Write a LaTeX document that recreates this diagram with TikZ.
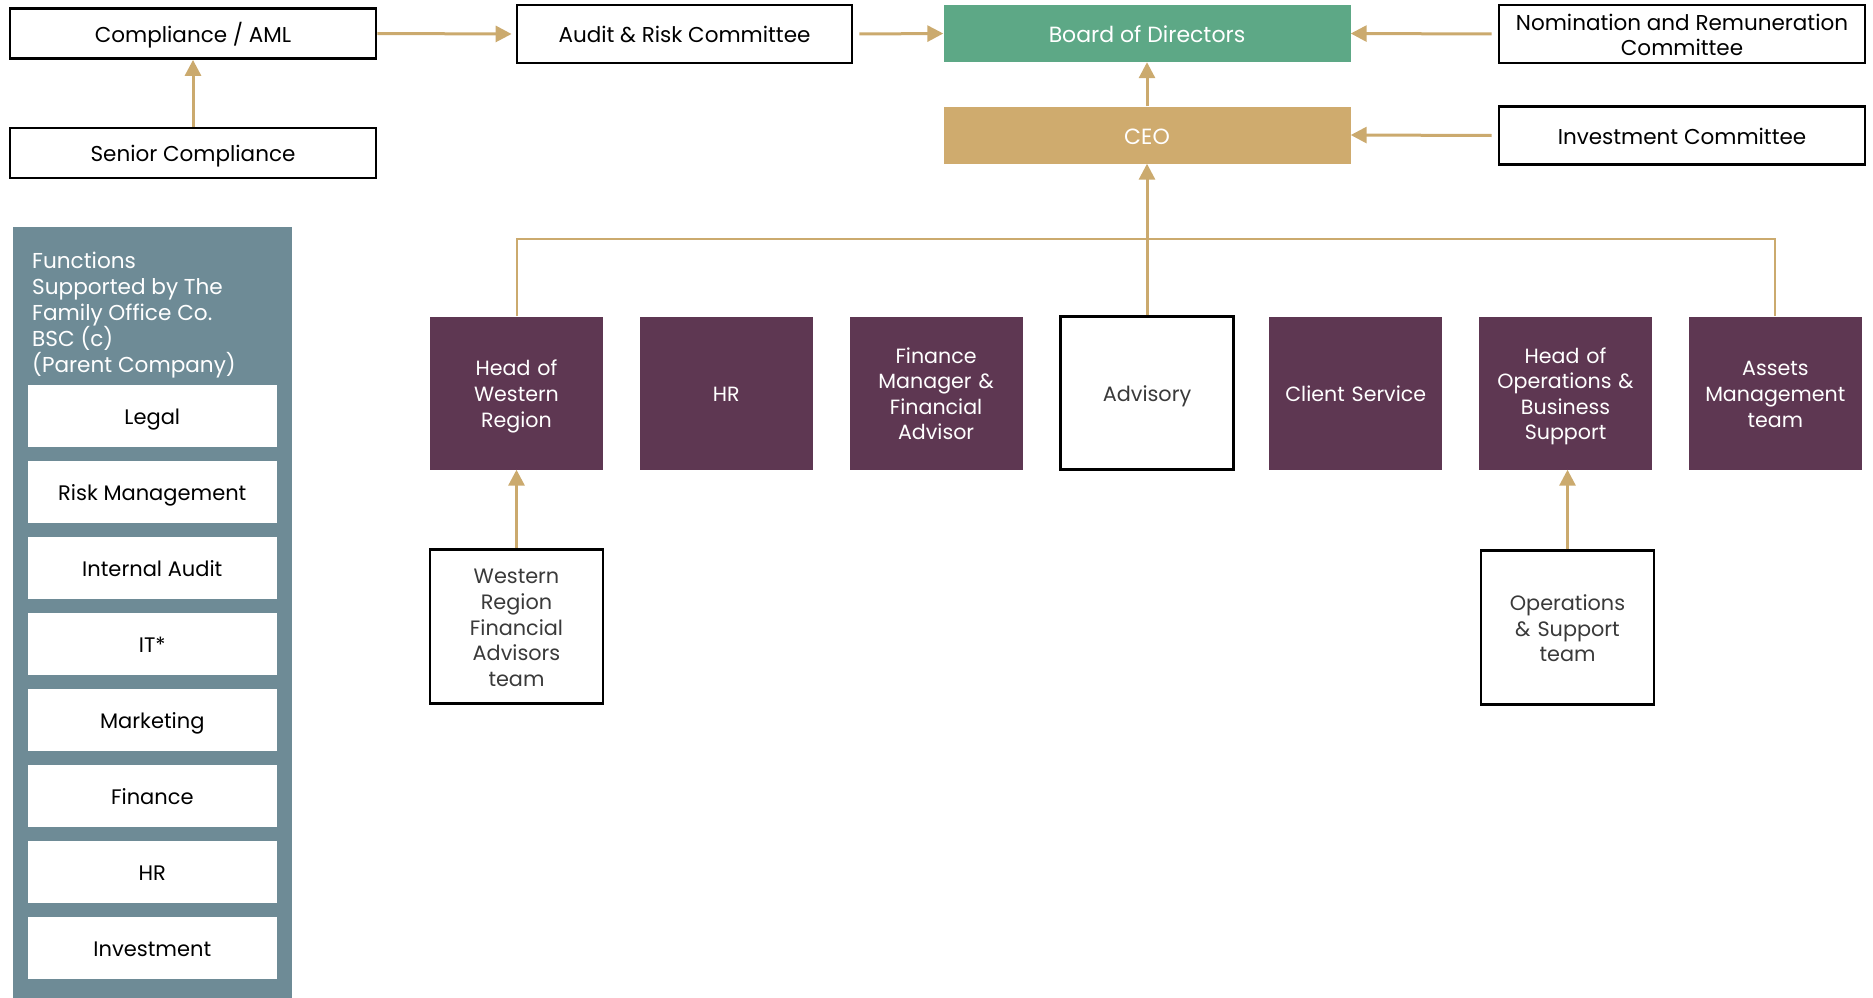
\documentclass[tikz,border=0pt]{standalone}
\usepackage{fontspec}
\setmainfont{Poppins}
\usetikzlibrary{arrows.meta}
\definecolor{boardgreen}{HTML}{5DA886}
\definecolor{ceotan}{HTML}{CFAB6E}
\definecolor{plum}{HTML}{5E3752}
\definecolor{panelblue}{HTML}{6E8B96}
\definecolor{linktan}{HTML}{CBAA6E}
\definecolor{softtext}{HTML}{3A3A3A}
\newcommand\sS{\rule[-0.3em]{0pt}{1.43em}}% single line
\newcommand\sT{\rule{0pt}{1.13em}}% first line
\newcommand\sB{\rule[-0.3em]{0pt}{0.3em}}% last line
\begin{document}
\begin{tikzpicture}[x=1pt,y=-1pt,
  topbox/.style={draw=black,line width=2.8pt,fill=white,minimum width=366pt,minimum height=50pt,align=center,font=\fontsize{21.5}{25}\selectfont,inner sep=0pt},
  headbox/.style={minimum width=407pt,minimum height=57pt,align=center,text=white,font=\fontsize{22}{25}\selectfont,inner sep=0pt},
  deptbox/.style={fill=plum,text=white,minimum width=173pt,minimum height=153pt,align=center,font=\fontsize{20.6}{25.6}\selectfont,inner sep=0pt,text width=170pt},
  teambox/.style={draw=black,line width=2.6pt,fill=white,text=softtext,minimum width=173pt,minimum height=154pt,align=center,font=\fontsize{20.8}{25.6}\selectfont,inner sep=0pt,text width=165pt},
  funcbox/.style={fill=white,minimum width=249.5pt,minimum height=62pt,align=center,font=\fontsize{21}{24}\selectfont,inner sep=0pt},
  link/.style={draw=linktan,line width=3pt,-{Triangle[width=16pt,length=16pt]}},
  bus/.style={draw=linktan,line width=2pt}
]
\useasboundingbox (0,0) rectangle (1873,998);
% left panel
\fill[panelblue] (13,227) rectangle (291.5,998);
\node[anchor=north west,align=left,text=white,font=\fontsize{21.6}{25.7}\selectfont,inner sep=0pt] (paneltitle) at (32,252) {Functions\\Supported by The\\Family Office Co.\\BSC (c)\\(Parent Company)};
\node[funcbox] (fLegal) at (152.3,415.7) {\sS Legal};
\node[funcbox] (fRisk) at (152.3,491.7) {\sS Risk Management};
\node[funcbox] (fAudit) at (152.3,567.7) {\sS Internal Audit};
\node[funcbox] (fIT) at (152.3,643.7) {\sS IT*};
\node[funcbox] (fMkt) at (152.3,719.7) {\sS Marketing};
\node[funcbox] (fFin) at (152.3,795.7) {\sS Finance};
\node[funcbox] (fHR) at (152.3,871.7) {\sS HR};
\node[funcbox] (fInv) at (152.3,947.7) {\sS Investment};
% top boxes
\node[topbox] (comp) at (193,33.5) {\sS Compliance / AML};
\node[topbox] (senior) at (193,153) {\sS Senior Compliance};
\node[topbox,minimum width=335pt,minimum height=58pt] (audit) at (684.5,34) {\sS Audit \& Risk Committee};
\node[headbox,fill=boardgreen] (board) at (1147,33.5) {\sS Board of Directors};
\node[headbox,fill=ceotan] (ceo) at (1147,135) {\sS CEO};
\node[topbox,minimum height=58pt] (nom) at (1682,34) {\sT Nomination and Remuneration\\Committee\sB};
\node[topbox,minimum height=58pt] (invc) at (1682,135.5) {\sS Investment Committee};
% departments
\node[deptbox] (west) at (516.5,393) {\sT Head of\\Western\\Region\sB};
\node[deptbox] (hr) at (726.3,393) {\sS HR};
\node[deptbox] (fin) at (936.1,393) {\sT Finance\\Manager \&\\Financial\\Advisor\sB};
\node[teambox,minimum height=153pt] (adv) at (1147,393) {\sS Advisory};
\node[deptbox] (client) at (1355.7,393) {\sS Client Service};
\node[deptbox] (ops) at (1565.5,393) {\sT Head of\\Operations \&\\Business\\Support\sB};
\node[deptbox] (assets) at (1775.3,393) {\sT Assets\\Management\\team\sB};
\node[teambox] (westteam) at (516.5,626.5) {\sT Western\\Region\\Financial\\Advisors\\team\sB};
\node[teambox] (opsteam) at (1567.5,627.7) {\sT Operations\\\& Support\\team\sB};
% connectors
\draw[link] (senior.north) -- (comp.south);
\draw[link] (comp.east) -- ([xshift=-4pt]audit.west);
\draw[link] ([xshift=6pt]audit.east) -- (board.west);
\draw[link] ([xshift=-6pt]nom.west) -- (board.east);
\draw[link] ([xshift=-6pt]invc.west) -- (ceo.east);
\draw[link] (ceo.north) -- (board.south);
\draw[link] (adv.north) -- (ceo.south);
\coordinate (busL) at (west.north |- 0,239);
\coordinate (busR) at (assets.north |- 0,239);
\draw[bus] (west.north) -- (busL) -- (busR) -- (assets.north);
\draw[link] (westteam.north) -- (west.south);
\draw[link] (opsteam.north) -- (ops.south -| opsteam.north);
\end{tikzpicture}
\end{document}
